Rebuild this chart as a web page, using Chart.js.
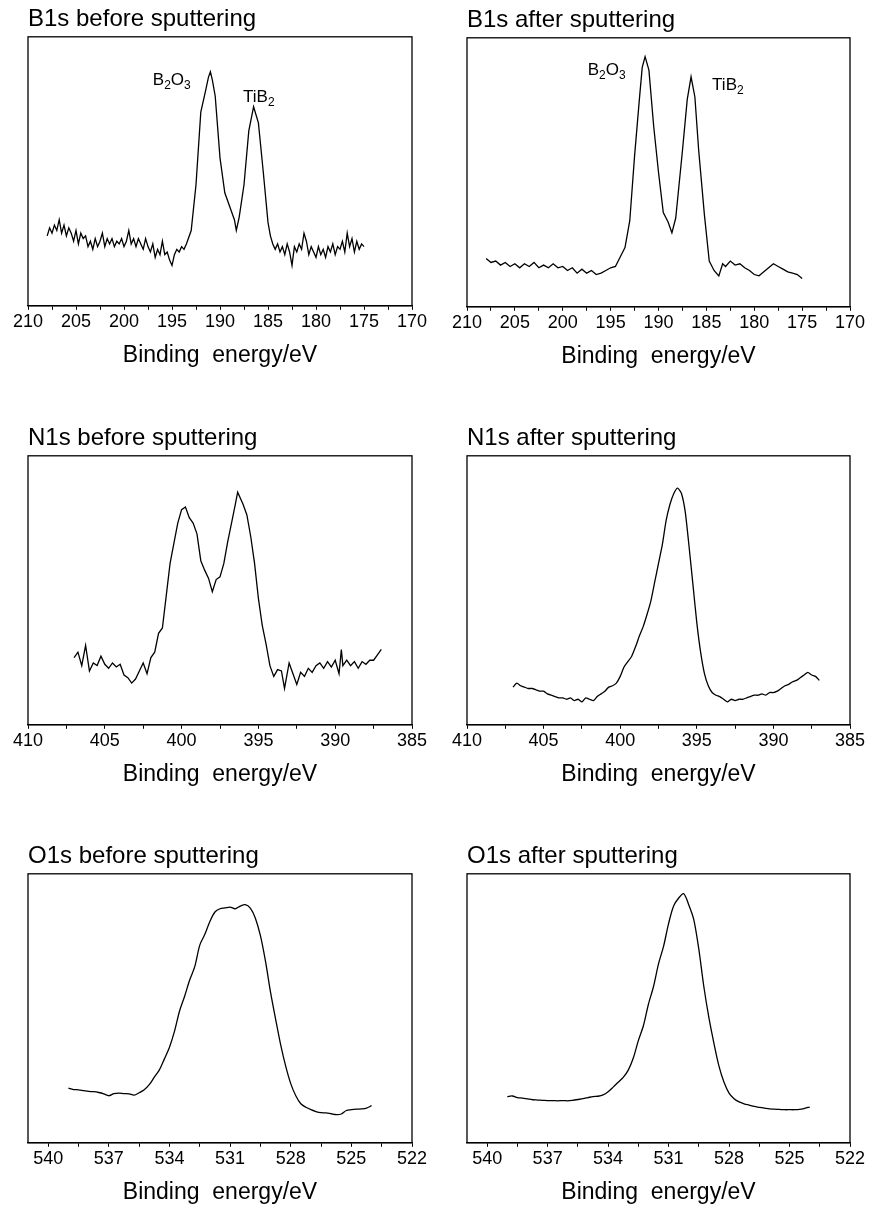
<!DOCTYPE html>
<html>
<head>
<meta charset="utf-8">
<script src="https://cdn.jsdelivr.net/npm/chart.js@4.4.0/dist/chart.umd.min.js"></script>
<style>
  body { margin: 0; background: #fff; }
  #wrap { position: relative; width: 870px; height: 1209px; }
  canvas { position: absolute; }
</style>
</head>
<body>
<div id="wrap"></div>
<script>
// B1s before sputtering
var b1sBeforeEnergy = [208,207.75,207.5,207.25,207,206.75,206.5,206.25,206,205.75,205.5,205.25,205,204.75,204.5,204.25,204,203.75,203.5,203.25,
  203,202.75,202.5,202.25,202,201.75,201.5,201.25,201,200.75,200.5,200.25,200,199.75,199.5,199.25,199,198.75,198.5,198.25,
  198,197.75,197.5,197.25,197,196.75,196.5,196.25,196,195.75,195.5,195.25,195,194.75,194.5,194.25,194,193.75,193.5,193,
  192.5,192,191.5,191.2,191,190.8,190.5,190,189.5,189,188.5,188.3,188,187.5,187,186.5,186,185.5,185,
  184.75,184.5,184.25,184,183.75,183.5,183.25,183,182.75,182.5,182.25,182,181.75,181.5,181.25,181,180.75,180.5,180.25,180,
  179.75,179.5,179.25,179,178.75,178.5,178.25,178,177.75,177.5,177.25,177,176.75,176.5,176.25,176,175.75,175.5,175.25,175];
var b1sBeforeCounts = [26,29,27,30,28,32,27,30,26,29,27,24,28,23,27,25,26,22,24,21,
  25,22,24,27,22,25,23,25,22,24,23,25,22,24,28,23,25,22,25,23,
  21,25,22,20,23,18,21,19,24,19,20,17,15,19,21,20,22,21,23,28,
  45,72,80,85,87,84,78,55,42,37,32,28,33,45,65,74,68,50,31,
  26,23,21,23,20,22,19,23,20,15,22,20,23,21,27,24,19,22,20,18,
  22,19,21,18,22,20,23,19,22,21,24,20,27,22,25,20,24,21,23,22];

// B1s after sputtering
var b1sAfterEnergy = [208,207.5,207,206.5,206,205.5,205,204.5,204,203.5,203,202.5,202,201.5,201,200.5,200,199.5,199,198.5,198,197.5,197,196.5,196,195.5,195,194.5,194,193.5,193,
  192.5,192,191.7,191.4,191,190.5,190,189.5,189,188.6,188.2,187.5,187,186.6,186.2,185.8,185.2,184.7,184.2,183.7,183.3,
  183,182.5,182,181.5,181,180.5,180,179.5,179,178.5,178,177.5,177,176.5,176,175.5,175];
var b1sAfterCounts = [18,16.5,17,15.5,16.5,15,16,14.5,16,15,16.5,14.5,15.5,14.5,16,14.5,15,13.5,14.5,12.5,14,12.5,13.5,12,12.5,13.5,14.5,15,18.5,22,32,
  56,77,89,93,88,67,50,35,31.5,27.5,33,58,77,85.5,78,58,34,17,13.5,11.5,16,
  15,17,15.5,16,14.5,13.5,12,11.5,13,14.5,16,15,14,13,12.5,12,10.5];

// N1s before sputtering
var n1sBeforeEnergy = [407,406.75,406.5,406.25,406,405.75,405.5,405.25,405,404.75,404.5,404.25,404,403.75,403.5,403.25,403,402.75,402.5,402.25,
  402,401.75,401.5,401.25,401,400.75,400.5,400.25,400,399.75,399.5,399.25,399,398.75,398.5,398.25,398,397.75,397.5,397.25,
  397,396.75,396.5,396.35,396,395.75,395.5,395.25,395,394.75,394.5,394.25,394,393.75,393.5,393.3,393,392.75,392.5,392.25,
  392,391.75,391.5,391.25,391,390.75,390.5,390.25,390,389.75,389.6,389.5,389.25,389,388.75,388.5,388.25,388,387.75,387.5,387.25,387];
var n1sBeforeCounts = [25,27,22,29.5,20,23,22,25.5,22.5,21,23,21.5,22.5,18.5,17.5,15.5,17,20,23,19,
  25,27,34,36,48,60,67.5,75,80,81,77,75,71,61,57.5,54.5,49.5,54,55,60,
  68,75,82,86.5,82,78,70,60,47,37,30,22,18,20.5,20,13.5,23,19,15,19.5,
  18,21,19.5,22,23,21,23.5,21.5,24,19,28,22,24,22,23.5,21,23.5,22.5,24,24,26,28];

// N1s after sputtering
var n1sAfterEnergy = [407,406.75,406.5,406.25,406,405.75,405.5,405.25,405,404.75,404.5,404.25,404,403.75,403.5,403.25,403,402.75,402.5,402.25,
  402,401.75,401.5,401.25,401,400.75,400.5,400.25,400,399.75,399.5,399.25,399,398.75,398.5,398.25,398,397.75,397.5,397.25,
  397,396.75,396.5,396.25,396,395.75,395.5,395.25,395,394.75,394.5,394.25,394,393.75,393.5,393.25,393,392.75,392.5,392.25,
  392,391.75,391.5,391.25,391,390.75,390.5,390.25,390,389.75,389.5,389.25,389,388.75,388.5,388.25,388,387.75,387.5,387.25,387];
var n1sAfterCounts = [14,15.5,14.5,14,13.5,13.5,13,12.5,12.5,11.5,11,10.5,10,10,9.5,10,9,9.5,8.5,10,
  9.5,9,10.5,11.5,12.5,14,14.5,15.5,18,21.5,23.5,25.5,29,33,36.5,41,46,53,60,67,
  76,82,86,88,86,79,66,52,38,27,19,14.5,12,11,10.5,9.5,8.5,9.5,9,9.5,
  9.5,10,10.5,11,11,11.5,11,12,12,12.5,13.5,14.5,15,16,16.5,17.5,18.5,19.5,18.5,18,16.5];

// O1s before / after sputtering (same energy grid)
var o1sEnergy = [539,538.75,538.5,538.25,538,537.75,537.5,537.25,537,536.75,536.5,536.25,536,535.75,535.5,535.25,535,534.75,534.5,534.25,
  534,533.75,533.5,533.25,533,532.75,532.5,532.25,532,531.75,531.5,531.25,531,530.75,530.5,530.25,530,529.75,529.5,529.25,
  529,528.75,528.5,528.25,528,527.75,527.5,527.25,527,526.75,526.5,526.25,526,525.75,525.5,525.25,525,524.75,524.5,524.25,524];
var o1sBeforeCounts = [20.3,19.8,19.7,19.4,19.1,19,18.7,18.2,17.5,18.3,18.5,18.3,18.2,17.7,18.6,19.7,21.6,24.4,27.1,31.2,
  35.5,41.5,49,54.5,60.5,65.5,73.5,77.5,82.3,85.8,87,87.3,87.6,87,88,88.5,87.2,83.5,77,67.5,
  56,46,36.5,28.5,22,17.5,14.5,13.2,12.3,11.6,11.2,11.1,10.8,10.5,10.7,12,12.3,12.5,12.6,12.9,13.8];
var o1sAfterCounts = [17.2,17.4,16.8,16.6,16.3,16,15.9,15.8,15.7,15.7,15.6,15.7,15.6,15.8,16.1,16.4,16.8,17.2,17.3,17.8,
  19,20.7,22.5,24.3,27,31.5,38,43.5,51.5,58,66.5,73,81.5,88,91,92.6,88.5,83,72,58,
  46.5,37,28.5,22.5,18.5,16.4,15.2,14.5,14,13.5,13.2,12.9,12.6,12.5,12.4,12.3,12.3,12.3,12.4,12.8,13.3];

// peak labels: [text, subscript?]
var b1sBeforeLabels = [
  {e: 197.0, v: 82.2, parts: [['B',0],['2',1],['O',0],['3',1]]},
  {e: 187.6, v: 75.6, parts: [['TiB',0],['2',1]]}
];
var b1sAfterLabels = [
  {e: 197.4, v: 86.3, parts: [['B',0],['2',1],['O',0],['3',1]]},
  {e: 184.4, v: 80.7, parts: [['TiB',0],['2',1]]}
];

var axisTitle = 'Binding  energy/eV';
var FONT = '"Liberation Sans", Arial, Helvetica, sans-serif';
Chart.defaults.font.family = FONT;
Chart.defaults.color = '#000';

var panels = [
  {id:'b1sBefore', title:'B1s before sputtering', energy:b1sBeforeEnergy, counts:b1sBeforeCounts, min:170, max:210, step:2.5, major:5, labels:b1sBeforeLabels, col:0, top:0},
  {id:'b1sAfter', title:'B1s after sputtering', energy:b1sAfterEnergy, counts:b1sAfterCounts, min:170, max:210, step:2.5, major:5, labels:b1sAfterLabels, col:1, top:1},
  {id:'n1sBefore', title:'N1s before sputtering', energy:n1sBeforeEnergy, counts:n1sBeforeCounts, min:385, max:410, step:2.5, major:5, labels:[], col:0, top:419},
  {id:'n1sAfter', title:'N1s after sputtering', energy:n1sAfterEnergy, counts:n1sAfterCounts, min:385, max:410, step:2.5, major:5, labels:[], col:1, top:419, tension:0.2},
  {id:'o1sBefore', title:'O1s before sputtering', energy:o1sEnergy, counts:o1sBeforeCounts, min:522, max:541, step:1.5, major:3, labels:[], col:0, top:837, tension:0.3},
  {id:'o1sAfter', title:'O1s after sputtering', energy:o1sEnergy, counts:o1sAfterCounts, min:522, max:541, step:1.5, major:3, labels:[], col:1, top:837, tension:0.3}
];

var frame = {
  id: 'frame',
  afterDraw: function(chart) {
    var a = chart.chartArea, ctx = chart.ctx;
    ctx.save();
    ctx.strokeStyle = '#000';
    ctx.lineWidth = 1.3;
    ctx.strokeRect(a.left, a.top, a.right - a.left, a.bottom - a.top);
    ctx.restore();
  }
};

var peakLabels = {
  id: 'peakLabels',
  afterDatasetsDraw: function(chart, args, opts) {
    var items = opts.items || [];
    var ctx = chart.ctx, xs = chart.scales.x, ys = chart.scales.y;
    ctx.save();
    ctx.fillStyle = '#000';
    ctx.textBaseline = 'alphabetic';
    items.forEach(function(it) {
      var px = xs.getPixelForValue(it.e), py = ys.getPixelForValue(it.v);
      it.parts.forEach(function(p) {
        ctx.font = (p[1] ? '12px ' : '17px ') + FONT;
        ctx.fillText(p[0], px, py + (p[1] ? 4 : 0));
        px += ctx.measureText(p[0]).width;
      });
    });
    ctx.restore();
  }
};

var wrap = document.getElementById('wrap');

panels.forEach(function(p) {
  var canvas = document.createElement('canvas');
  canvas.id = p.id;
  canvas.width = 435;
  canvas.height = 380;
  canvas.style.left = (p.col * 435) + 'px';
  canvas.style.top = p.top + 'px';
  wrap.appendChild(canvas);

  var points = [];
  for (var i in p.energy) {
    points.push({x: p.energy[i], y: p.counts[i]});
  }

  new Chart(canvas, {
    type: 'line',
    data: {
      datasets: [{
        data: points,
        borderColor: '#000',
        borderWidth: 1.3,
        pointRadius: 0,
        tension: p.tension || 0,
        fill: false
      }]
    },
    options: {
      responsive: false,
      animation: false,
      events: [],
      layout: {
        padding: p.col === 0 ? {left: 28, right: 23, top: 0, bottom: 11} : {left: 32, right: 20, top: 0, bottom: 11}
      },
      plugins: {
        legend: {display: false},
        tooltip: {enabled: false},
        title: {
          display: true,
          text: p.title,
          align: 'start',
          color: '#000',
          font: {size: 24, weight: 'normal'},
          padding: {top: 5, bottom: 3}
        },
        peakLabels: {items: p.labels}
      },
      scales: {
        x: {
          type: 'linear',
          reverse: true,
          min: p.min,
          max: p.max,
          border: {display: true, color: '#000', width: 1.3},
          grid: {display: true, drawOnChartArea: false, drawTicks: true, tickLength: 4, color: '#000', lineWidth: 1},
          ticks: {
            stepSize: p.step,
            autoSkip: false,
            maxRotation: 0,
            includeBounds: false,
            padding: 1,
            color: '#000',
            font: {size: 18},
            callback: function(v) {
              var r = v / p.major;
              return Math.abs(r - Math.round(r)) < 1e-6 ? String(Math.round(v)) : '';
            }
          },
          title: {
            display: true,
            text: axisTitle,
            color: '#000',
            font: {size: 23},
            padding: {top: 8, bottom: 0}
          }
        },
        y: {display: false, min: 0, max: 100}
      }
    },
    plugins: [frame, peakLabels]
  });
});
</script>
</body>
</html>
